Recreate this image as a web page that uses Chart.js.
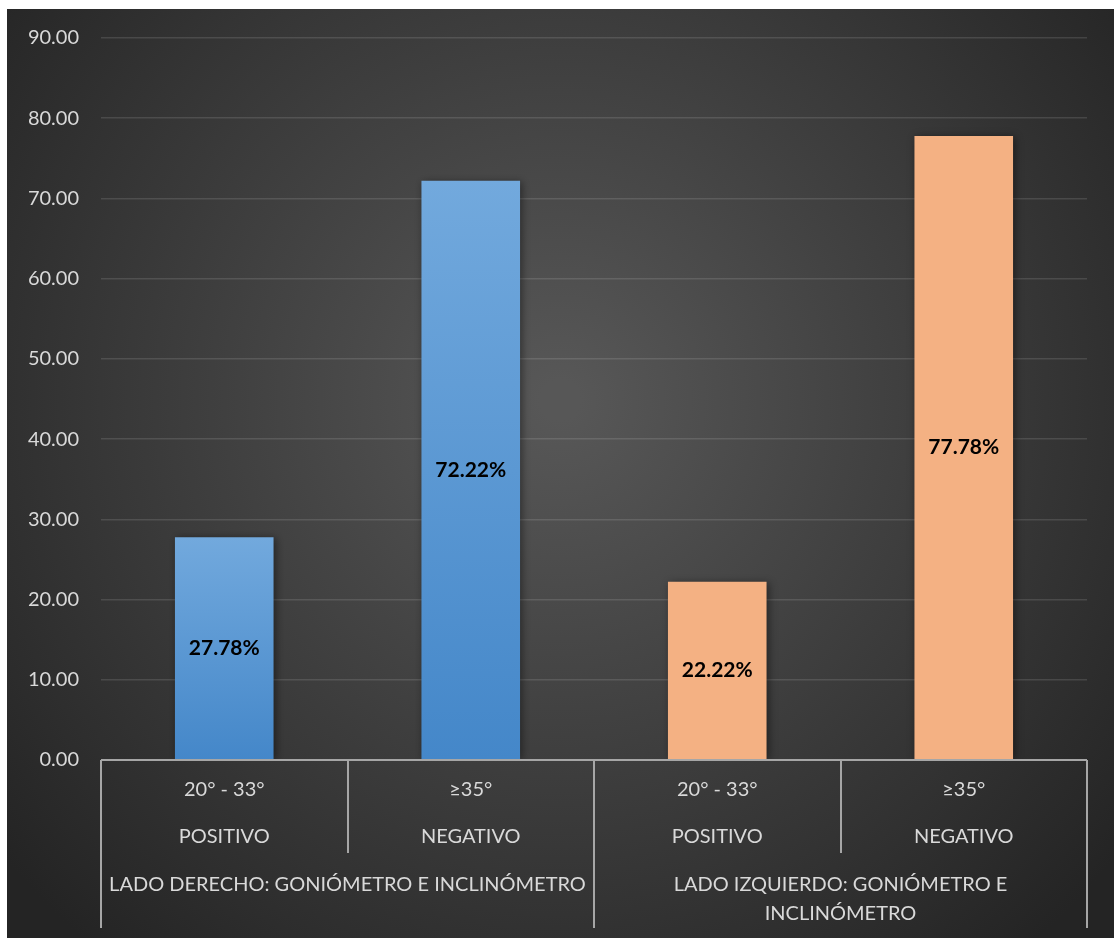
<!DOCTYPE html>
<html lang="es">
<head>
  <meta charset="UTF-8">
  <title>Goniómetro e inclinómetro</title>
  <script src="https://cdn.jsdelivr.net/npm/chart.js"></script>
  <style>
    html, body { margin: 0; padding: 0; background: #fff; }
    #wrap { width: 1114px; height: 938px; }
  </style>
</head>
<body>
  <div id="wrap"><canvas id="chart" width="1114" height="938"></canvas></div>

  <script>
    // data
    const rangos = ['20° - 33°', '≥35°', '20° - 33°', '≥35°'];
    const resultados = ['POSITIVO', 'NEGATIVO', 'POSITIVO', 'NEGATIVO'];
    const lados = [
      ['LADO DERECHO: GONIÓMETRO E INCLINÓMETRO'],
      ['LADO IZQUIERDO: GONIÓMETRO E', 'INCLINÓMETRO']
    ];
    const porcentajes = [27.78, 72.22, 22.22, 77.78];
    const yTicks = [0, 10, 20, 30, 40, 50, 60, 70, 80, 90];

    const FONT = 'Lato, "Open Sans", sans-serif';
    const ctx = document.getElementById('chart').getContext('2d');

    // blue bars: light-to-dark gradient over each bar's own height; orange is flat
    function barColor(context) {
      const i = context.dataIndex;
      if (i >= 2) return '#f4b183';
      const chart = context.chart;
      if (!chart.chartArea || !chart.scales.y) return '#5b9bd5';
      const top = chart.scales.y.getPixelForValue(porcentajes[i]);
      const bottom = chart.scales.y.getPixelForValue(0);
      const g = chart.ctx.createLinearGradient(0, top, 0, bottom);
      g.addColorStop(0, '#72a9dd');
      g.addColorStop(1, '#4487c9');
      return g;
    }

    const background = {
      id: 'background',
      beforeDraw(chart) {
        const c = chart.ctx;
        c.save();
        c.fillStyle = '#ffffff';
        c.fillRect(0, 0, chart.width, chart.height);
        const g = c.createRadialGradient(560, 400, 20, 560, 400, 720);
        g.addColorStop(0, '#575757');
        g.addColorStop(1, '#242424');
        c.fillStyle = g;
        c.fillRect(7, 9, chart.width - 7, chart.height - 9);
        c.restore();
      }
    };

    const barShadow = {
      id: 'barShadow',
      beforeDatasetsDraw(chart) {
        const c = chart.ctx;
        c.save();
        c.shadowColor = 'rgba(0,0,0,0.45)';
        c.shadowBlur = 8;
        c.shadowOffsetX = 2;
        c.shadowOffsetY = 1;
      },
      afterDatasetsDraw(chart) {
        chart.ctx.restore();
      }
    };

    const valueLabels = {
      id: 'valueLabels',
      afterDatasetsDraw(chart) {
        const c = chart.ctx;
        const meta = chart.getDatasetMeta(0);
        c.save();
        c.fillStyle = '#000';
        c.font = 'bold 21px ' + FONT;
        c.textAlign = 'center';
        c.textBaseline = 'middle';
        meta.data.forEach(function (bar, i) {
          const mid = (bar.y + bar.base) / 2;
          c.fillText(porcentajes[i].toFixed(2) + '%', bar.x, mid);
        });
        c.restore();
      }
    };

    // multi-level category axis: two label rows per bar, one group row, dividers
    const groupAxis = {
      id: 'groupAxis',
      afterDraw(chart) {
        const c = chart.ctx;
        const x = chart.scales.x;
        const a = chart.chartArea;
        const step = (a.right - a.left) / rangos.length;
        const bottom = a.bottom + 168;
        c.save();
        c.strokeStyle = '#a6a6a6';
        c.lineWidth = 2;
        c.beginPath();
        c.moveTo(a.left, a.bottom);
        c.lineTo(a.right, a.bottom);
        for (let i = 0; i <= rangos.length; i++) {
          const px = Math.round(a.left + step * i);
          c.moveTo(px, a.bottom);
          c.lineTo(px, i % 2 === 0 ? bottom : a.bottom + 93);
        }
        c.stroke();

        c.fillStyle = '#d9d9d9';
        c.font = '20px ' + FONT;
        c.textAlign = 'center';
        c.textBaseline = 'middle';
        rangos.forEach(function (r, i) {
          const cx = x.getPixelForValue(i);
          c.fillText(r, cx, a.bottom + 30);
          c.fillText(resultados[i], cx, a.bottom + 77);
        });
        lados.forEach(function (lines, g) {
          const cx = a.left + step * (2 * g + 1);
          lines.forEach(function (t, k) {
            c.fillText(t, cx, a.bottom + 125 + k * 29);
          });
        });
        c.restore();
      }
    };

    new Chart(ctx, {
      type: 'bar',
      data: {
        labels: rangos,
        datasets: [{
          data: porcentajes,
          backgroundColor: barColor,
          borderWidth: 0,
          barPercentage: 0.4,
          categoryPercentage: 1
        }]
      },
      options: {
        responsive: false,
        animation: false,
        layout: { padding: { left: 0, right: 27, top: 38, bottom: 178 } },
        plugins: { legend: { display: false }, tooltip: { enabled: false } },
        scales: {
          x: {
            display: false
          },
          y: {
            min: 0,
            max: 90,
            afterBuildTicks(scale) {
              scale.ticks = yTicks.map(function (v) { return { value: v }; });
            },
            afterFit(scale) { scale.width = 101; },
            border: { display: false },
            grid: { color: 'rgba(255,255,255,0.12)', lineWidth: 1.5, drawTicks: false },
            ticks: {
              color: '#d9d9d9',
              font: { family: FONT, size: 20 },
              padding: 22,
              callback: function (v) { return Number(v).toFixed(2); }
            }
          }
        }
      },
      plugins: [background, barShadow, valueLabels, groupAxis]
    });
  </script>
</body>
</html>
